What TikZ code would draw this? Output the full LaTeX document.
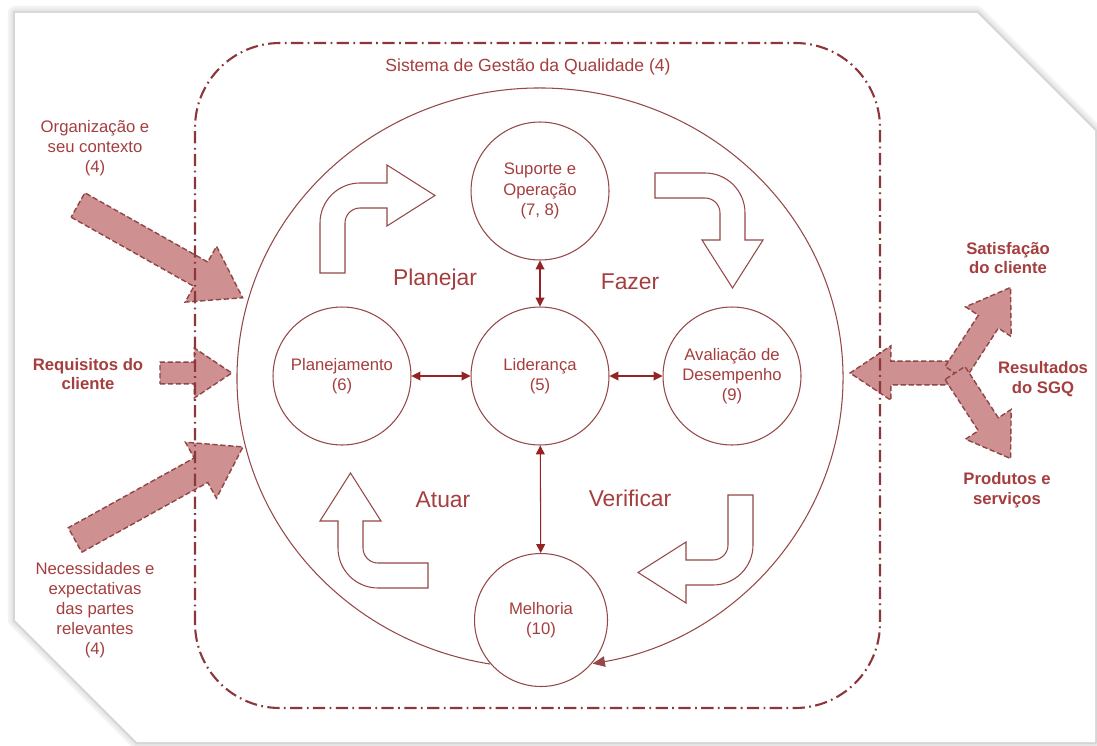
\documentclass[tikz,border=0pt]{standalone}
\usepackage{fontspec}
\setmainfont{Liberation Sans}
\usetikzlibrary{arrows.meta}
\definecolor{sgqline}{RGB}{150,72,72}
\definecolor{sgqtext}{RGB}{165,62,62}
\definecolor{sgqbox}{RGB}{140,55,60}
\definecolor{sgqfill}{RGB}{206,144,144}
\definecolor{sgqedge}{RGB}{145,70,70}
\definecolor{linkred}{RGB}{150,35,35}
\tikzset{
  stage/.style = {circle, draw=sgqline, line width=0.6pt, fill=white, text=sgqtext,
                  align=center, inner sep=0pt, minimum size=2.76cm,
                  font=\fontsize{9.5}{11.5}\selectfont},
  link/.style = {draw=linkred, line width=0.6pt,
                 {Triangle[length=5pt,width=5pt]}-{Triangle[length=5pt,width=5pt]}},
  phase/.style = {text=sgqtext, font=\fontsize{13}{15}\selectfont},
  sidetext/.style = {text=sgqtext, align=center, font=\bfseries\fontsize{9.5}{11.3}\selectfont},
  sysbox/.style = {draw=sgqbox, line width=1.2pt, rounded corners=1.7cm,
                   dash pattern=on 7pt off 2.5pt on 1pt off 2.5pt},
  bendarrow/.style = {draw=sgqline, fill=white, line width=0.6pt},
  inarrow/.style = {draw=sgqedge, fill=sgqfill, line width=0.8pt, dash pattern=on 3pt off 1.5pt},
  pics/bentarrow/.style = {code={
    \draw[bendarrow] (-40,-50) -- (-40,0) arc[start angle=180, end angle=90, radius=40]
      -- (27,40) -- (27,58) -- (75,27.5) -- (27,-3) -- (27,15) -- (0,15)
      arc[start angle=90, end angle=180, radius=15] -- (-15,-50) -- cycle;
  }},
  pics/blockarrow/.style = {code={
    \draw[inarrow] (0,-14) -- ({#1-48},-14) -- ({#1-48},-32) -- (#1,0)
      -- ({#1-48},32) -- ({#1-48},14) -- (0,14) -- cycle;
  }}
}

\begin{document}
\begin{tikzpicture}[x=0.02cm, y=0.02cm]
\useasboundingbox (0,0) rectangle (1097,745);
\fill[white] (0,0) rectangle (1097,745);
% paper
\foreach \w/\c in {8pt/5, 5pt/9, 2.5pt/16}
  \draw[black!\c, line width=\w, line join=round] (15,732) -- (977,732) -- (1095,614) -- (1095,3) -- (137,3) -- (15,125) -- cycle;
\fill[white] (15,732) -- (977,732) -- (1095,614) -- (1095,3) -- (137,3) -- (15,125) -- cycle;

% inputs and outputs
\pic[rotate=-29.4] at (78,540) {blockarrow=189};
\pic[scale=0.78] at (160,372) {blockarrow=92};
\pic[rotate=29] at (75,205) {blockarrow=192};
\pic[scale=0.85, rotate=180] at (958,372) {blockarrow=127};
\pic[scale=0.85, rotate=57] at (955,372) {blockarrow=120};
\pic[scale=0.85, rotate=-57] at (955,372) {blockarrow=120};

\draw[sysbox] (195,37) rectangle (880,702);
\node[text=sgqtext, font=\fontsize{10}{12}\selectfont] (sgq) at (528,678) {Sistema de Gestão da Qualidade (4)};

% cycle
\draw[sgqline, line width=0.6pt, -{Triangle[length=7pt,width=6pt]}] (540,367) ++(260.5:303 and 290)
  arc[start angle=260.5, end angle=-80, x radius=303, y radius=290];

\node[stage] (sup) at (540,554) {Suporte e\\Operação\\(7, 8)};
\node[stage] (lid) at (540,369) {Liderança\\(5)};
\node[stage] (plan) at (342,369) {Planejamento\\(6)};
\node[stage] (aval) at (732,369) {Avaliação de\\Desempenho\\(9)};
\node[stage, minimum size=2.66cm] (mel) at (541,125) {Melhoria\\(10)};

\draw[link] (plan) -- (lid);
\draw[link] (lid) -- (aval);
\draw[link] (sup) -- (lid);
\draw[link] (lid) -- (mel);

\pic at (360,522) {bentarrow};
\pic[rotate=-90] at (705,532) {bentarrow};
\pic[rotate=180] at (713,200) {bentarrow};
\pic[rotate=90] at (378,197) {bentarrow};

\node[phase] (pl) at (435,465) {Planejar};
\node[phase] (fz) at (630,463) {Fazer};
\node[phase] (at) at (443,245) {Atuar};
\node[phase] (vf) at (630,247) {Verificar};

\node[sidetext, font=\fontsize{9.5}{11.3}\selectfont] (org) at (95,597) {Organização e\\seu contexto\\(4)};
\node[sidetext] (req) at (88,371) {Requisitos do\\cliente};
\node[sidetext, font=\fontsize{9.5}{11.3}\selectfont] (nec) at (95,135) {Necessidades e\\expectativas\\das partes\\relevantes\\(4)};
\node[sidetext] (sat) at (1008,487) {Satisfação\\do cliente};
\node[sidetext] (res) at (1043,366) {Resultados\\do SGQ};
\node[sidetext] (prod) at (1007,255) {Produtos e\\serviços};
\end{tikzpicture}
\end{document}
